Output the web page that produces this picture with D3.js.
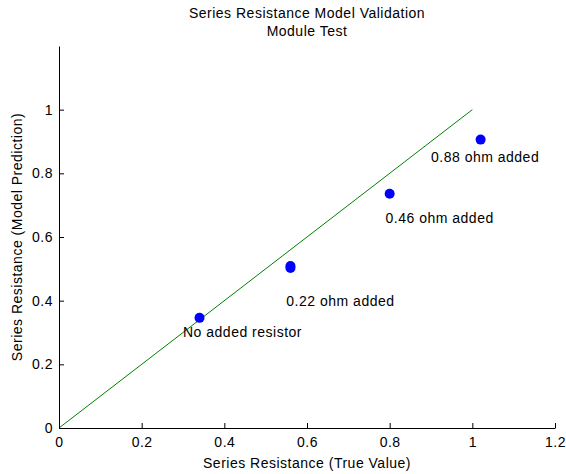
<!DOCTYPE html>
<html><head><meta charset="utf-8">
<script src="https://cdn.jsdelivr.net/npm/d3@7"></script>
<style>body{margin:0;background:#fff;} svg{display:block;} text{font-family:Arial,"Liberation Sans",Helvetica,sans-serif;fill:#000;letter-spacing:0.5px;}</style>
</head><body>
<svg id="chart" width="566" height="474"></svg>
<script>
const titleLines = ["Series Resistance Model Validation", "Module Test"];
const xLabel = "Series Resistance (True Value)";
const yLabel = "Series Resistance (Model Prediction)";
const trueValues = [0.34, 0.56, 0.56, 0.80, 1.02];
const predicted = [0.346, 0.503, 0.509, 0.736, 0.906];
const refLineX = [0, 1];
const refLineY = [0, 1];
const annotationText = ["No added resistor", "0.22 ohm added", "0.46 ohm added", "0.88 ohm added"];
const annotationX = [0.30, 0.55, 0.79, 0.90];
const annotationY = [0.30, 0.40, 0.66, 0.85];
const xTicks = [0, 0.2, 0.4, 0.6, 0.8, 1, 1.2];
const yTicks = [0, 0.2, 0.4, 0.6, 0.8, 1];

const svg = d3.select("#chart");
const m = {left: 59, right: 11, top: 46, bottom: 46};
const W = 566, H = 474;
const FS = 14;
const x = d3.scaleLinear().domain([0, 1.2]).range([m.left, W - m.right]);
const y = d3.scaleLinear().domain([0, 1.2]).range([H - m.bottom, m.top]);
const fmt = d => d === 0 ? "0" : (d === 1 ? "1" : d3.format(".1f")(d));

// reference line
svg.append("path")
  .datum(refLineX.map((v, i) => [v, refLineY[i]]))
  .attr("d", d3.line().x(d => x(d[0])).y(d => y(d[1])))
  .attr("fill", "none").attr("stroke", "#008000").attr("stroke-width", 1);

// axes
const xAxis = svg.append("g").attr("transform", `translate(0,${y(0)})`)
  .call(d3.axisBottom(x).tickValues(xTicks).tickFormat(fmt).tickSizeInner(-5).tickSizeOuter(0).tickPadding(9));
const yAxis = svg.append("g").attr("transform", `translate(${x(0)},0)`)
  .call(d3.axisLeft(y).tickValues(yTicks).tickFormat(fmt).tickSizeInner(-5).tickSizeOuter(0).tickPadding(6));
[xAxis, yAxis].forEach(g => {
  g.select(".domain").attr("stroke", "#000");
  g.selectAll(".tick line").attr("stroke", "#000");
  g.selectAll(".tick text").attr("font-size", FS).attr("fill", "#000")
    .style("font-family", "Arial, 'Liberation Sans', sans-serif");
});

// points
svg.append("g").selectAll("circle")
  .data(trueValues.map((v, i) => [v, predicted[i]]))
  .join("circle")
  .attr("cx", d => x(d[0])).attr("cy", d => y(d[1])).attr("r", 5)
  .attr("fill", "#0000ff");

// annotations
svg.append("g").selectAll("text")
  .data(annotationText.map((t, i) => ({t, x: annotationX[i], y: annotationY[i]})))
  .join("text")
  .attr("x", d => x(d.x)).attr("y", d => y(d.y)).attr("dy", "0.35em")
  .attr("font-size", FS).text(d => d.t);

// titles
svg.append("g").selectAll("text").data(titleLines).join("text")
  .attr("x", (x(0) + x(1.2)) / 2).attr("y", (d, i) => 18 + i * 18)
  .attr("text-anchor", "middle").attr("font-size", FS).text(d => d);

svg.append("text").attr("x", (x(0) + x(1.2)) / 2).attr("y", 468)
  .attr("text-anchor", "middle").attr("font-size", FS).text(xLabel);

svg.append("text")
  .attr("transform", `translate(22,${(y(0) + y(1.2)) / 2}) rotate(-90)`)
  .attr("text-anchor", "middle").attr("font-size", FS).text(yLabel);
</script>
</body></html>
